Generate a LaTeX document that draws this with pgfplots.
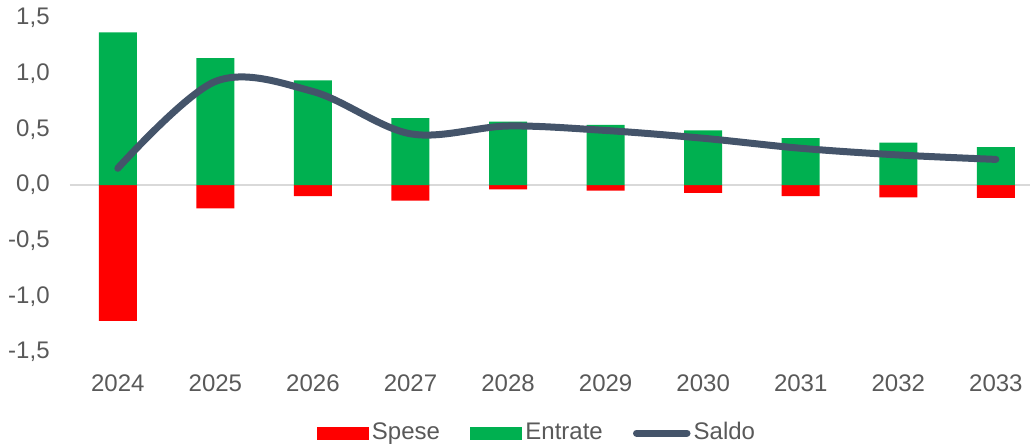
\documentclass[border=0pt]{standalone}
\usepackage{fontspec}
\setmainfont{Liberation Sans}
\usepackage{pgfplots}
\pgfplotsset{compat=1.18}
\definecolor{cRed}{HTML}{FF0000}
\definecolor{cGreen}{HTML}{00B050}
\definecolor{cLine}{HTML}{44546A}
\definecolor{cText}{HTML}{595959}
\definecolor{cGrid}{HTML}{D9D9D9}
\begin{document}
\fontsize{12}{14}\selectfont
\begin{tikzpicture}
\begin{axis}[
  at={(0,0)}, anchor=south west,
  scale only axis, width=480pt, height=167pt,
  xmin=-0.49, xmax=9.35, ymin=-1.5, ymax=1.5,
  axis line style={draw=none},
  major tick style={draw=none},
  xtick={0,1,2,3,4,5,6,7,8,9},
  xticklabels={2024,2025,2026,2027,2028,2029,2030,2031,2032,2033},
  ytick={-1.5,-1,-0.5,0,0.5,1,1.5},
  /pgf/number format/.cd, use comma, fixed, fixed zerofill, precision=1, assume math mode=true,
  /pgfplots/.cd,
  ticklabel style={font=\fontsize{12}{14}\selectfont, text=cText},
  yticklabel style={xshift=-6pt},
  xticklabel style={yshift=-7pt},
  extra y ticks={0}, extra y tick labels={},
  extra y tick style={grid=major, major grid style={draw=cGrid, line width=1pt}},
  legend columns=3,
  legend style={draw=none, fill=none, at={(rel axis cs:0.487,-0.2425)}, anchor=center,
    font=\fontsize{12}{14}\selectfont, text=cText,
    nodes={inner sep=1.6pt},
    /tikz/every even column/.append style={column sep=13.5pt}},
]
\addplot[ybar, bar width=19pt, bar shift=0pt, fill=cRed, draw=none,
  legend image code/.code={\fill[cRed] (0pt,-3.25pt) rectangle (26pt,3.25pt);}]
  coordinates {(0,-1.22) (1,-0.21) (2,-0.10) (3,-0.14) (4,-0.04) (5,-0.05) (6,-0.07) (7,-0.10) (8,-0.11) (9,-0.115)};
\addlegendentry{Spese}
\addplot[ybar, bar width=19pt, bar shift=0pt, fill=cGreen, draw=none,
  legend image code/.code={\fill[cGreen] (0pt,-3.25pt) rectangle (26pt,3.25pt);}]
  coordinates {(0,1.37) (1,1.14) (2,0.94) (3,0.60) (4,0.57) (5,0.54) (6,0.49) (7,0.42) (8,0.38) (9,0.34)};
\addlegendentry{Entrate}
\addplot[cLine, line width=3.5pt, line cap=round, smooth, tension=0.55, mark=none,
  legend image code/.code={\draw[cLine, line width=3.5pt, line cap=round] (1.75pt,0pt) -- (27pt,0pt);}]
  coordinates {(0,0.15) (1,0.93) (2,0.84) (3,0.46) (4,0.53) (5,0.49) (6,0.42) (7,0.33) (8,0.27) (9,0.23)};
\addlegendentry{Saldo}
\end{axis}
\pgfresetboundingbox
\path (-35pt,-47pt) rectangle (481pt,176pt);
\end{tikzpicture}
\end{document}
